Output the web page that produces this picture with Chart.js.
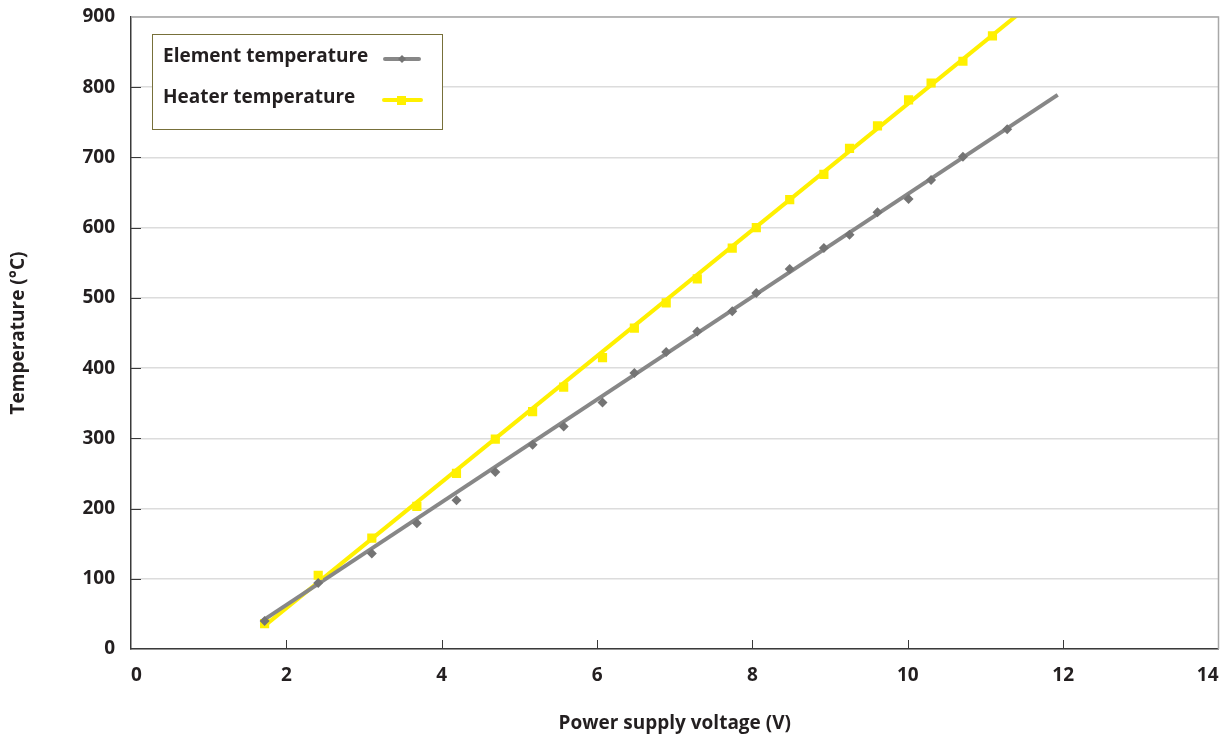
<!DOCTYPE html>
<html>
<head>
<meta charset="utf-8">
<title>Temperature vs power supply voltage</title>
<script src="https://cdn.jsdelivr.net/npm/chart.js@4.4.1/dist/chart.umd.min.js"></script>
<style>
  html, body { margin: 0; padding: 0; background: #fff; }
</style>
</head>
<body>
<canvas id="tempChart" width="1225" height="736"></canvas>
<script>
/* ============================
   DATA
============================ */

// ======== MEASURED POINTS ========
const elementVoltage = [1.72, 2.41, 3.10, 3.68, 4.19, 4.69, 5.17, 5.57, 6.07, 6.48, 6.89,
                        7.29, 7.74, 8.05, 8.48, 8.92, 9.25, 9.61, 10.01, 10.30, 10.71, 11.28];
const elementTemp = [40, 94, 136, 179, 212, 252, 291, 317, 351, 393, 423,
                     452, 481, 507, 541, 571, 590, 622, 641, 668, 701, 740];

const heaterVoltage = [1.72, 2.41, 3.10, 3.68, 4.19, 4.69, 5.17, 5.57, 6.07, 6.48, 6.89,
                       7.29, 7.74, 8.05, 8.48, 8.92, 9.25, 9.61, 10.01, 10.30, 10.71, 11.09];
const heaterTemp = [36, 105, 158, 203, 250, 299, 338, 373, 415, 457, 493,
                    527, 571, 600, 640, 676, 713, 745, 782, 806, 837, 873];

// ======== TREND LINES (end points) ========
const elementFitVoltage = [1.69, 11.93];
const elementFitTemp = [40, 789];
const heaterFitVoltage = [1.73, 11.40];
const heaterFitTemp = [34, 902];

// ======== AXES ========
const xTicks = [0, 2, 4, 6, 8, 10, 12, 14];
const yTicks = [0, 100, 200, 300, 400, 500, 600, 700, 800, 900];

const seriesNames = ["Element temperature", "Heater temperature"];

// ======== STYLE ========
const GRAY_LINE = "#878787";
const GRAY_MARK = "#747474";
const YELLOW = "#fff000";
const TEXT = "#231f20";
const FONT = { family: "'Open Sans', 'DejaVu Sans', sans-serif", size: 19, weight: "bold" };

const toPoints = (xs, ys) => xs.map((x, i) => ({ x: x, y: ys[i] }));

// ======== FRAME, INWARD TICKS AND LEGEND BOX ========
const framePlugin = {
    id: "frame",
    afterDraw(chart) {
        const { ctx, chartArea: a, scales } = chart;
        ctx.save();

        // top and right frame
        ctx.strokeStyle = "#a8a8a8";
        ctx.lineWidth = 1.5;
        ctx.beginPath();
        ctx.moveTo(a.left, a.top);
        ctx.lineTo(a.right, a.top);
        ctx.lineTo(a.right, a.bottom);
        ctx.stroke();

        // inward tick marks
        ctx.strokeStyle = "#3a3a3a";
        ctx.lineWidth = 1;
        xTicks.slice(1, -1).forEach((v) => {
            const px = Math.round(scales.x.getPixelForValue(v)) + 0.5;
            ctx.beginPath();
            ctx.moveTo(px, a.bottom);
            ctx.lineTo(px, a.bottom - 9);
            ctx.stroke();
        });
        yTicks.slice(1, -1).forEach((v) => {
            const py = Math.round(scales.y.getPixelForValue(v)) + 0.5;
            ctx.beginPath();
            ctx.moveTo(a.left, py);
            ctx.lineTo(a.left + 10, py);
            ctx.stroke();
        });

        // legend box
        const bx = 152.5, by = 34.5, bw = 290, bh = 95;
        ctx.fillStyle = "#fff";
        ctx.fillRect(bx, by, bw, bh);
        ctx.strokeStyle = "#77703a";
        ctx.lineWidth = 1;
        ctx.strokeRect(bx, by, bw, bh);

        ctx.font = `${FONT.weight} ${FONT.size}px ${FONT.family}`;
        ctx.fillStyle = TEXT;
        ctx.textAlign = "left";
        ctx.textBaseline = "middle";
        ctx.fillText(seriesNames[0], 163, 57);
        ctx.fillText(seriesNames[1], 163, 98);

        // element sample: line + diamond
        ctx.lineCap = "round";
        ctx.strokeStyle = GRAY_LINE;
        ctx.lineWidth = 4;
        ctx.beginPath();
        ctx.moveTo(385, 59);
        ctx.lineTo(419, 59);
        ctx.stroke();
        ctx.fillStyle = GRAY_MARK;
        ctx.beginPath();
        ctx.moveTo(402, 55);
        ctx.lineTo(406, 59);
        ctx.lineTo(402, 63);
        ctx.lineTo(398, 59);
        ctx.closePath();
        ctx.fill();

        // heater sample: line + square
        ctx.strokeStyle = YELLOW;
        ctx.beginPath();
        ctx.moveTo(384, 100);
        ctx.lineTo(421, 100);
        ctx.stroke();
        ctx.fillStyle = YELLOW;
        ctx.fillRect(397, 96, 9, 9);

        ctx.restore();
    },
};

// ======== CHART ========
new Chart(document.getElementById("tempChart"), {
    type: "scatter",
    data: {
        datasets: [
            {
                label: seriesNames[1] + " trend",
                data: toPoints(heaterFitVoltage, heaterFitTemp),
                showLine: true,
                borderColor: YELLOW,
                borderWidth: 4,
                pointRadius: 0,
                order: 4,
            },
            {
                label: seriesNames[0] + " trend",
                data: toPoints(elementFitVoltage, elementFitTemp),
                showLine: true,
                borderColor: GRAY_LINE,
                borderWidth: 4,
                pointRadius: 0,
                order: 3,
            },
            {
                label: seriesNames[1],
                data: toPoints(heaterVoltage, heaterTemp),
                pointStyle: "rect",
                pointRadius: 6.5,
                backgroundColor: YELLOW,
                borderWidth: 0,
                order: 2,
            },
            {
                label: seriesNames[0],
                data: toPoints(elementVoltage, elementTemp),
                pointStyle: "rectRot",
                pointRadius: 5,
                backgroundColor: GRAY_MARK,
                borderWidth: 0,
                order: 1,
            },
        ],
    },
    options: {
        responsive: false,
        animation: false,
        devicePixelRatio: 1,
        layout: { padding: { top: 17, right: 3, left: 0, bottom: 0 } },
        plugins: {
            legend: { display: false },
            tooltip: { enabled: false },
        },
        scales: {
            x: {
                type: "linear",
                min: 0,
                max: 14,
                afterBuildTicks: (scale) => {
                    scale.ticks = xTicks.map((v) => ({ value: v }));
                },
                afterFit: (scale) => {
                    scale.height = 87;
                    scale.paddingLeft = 0;
                    scale.paddingRight = 0;
                },
                ticks: { font: FONT, color: TEXT, padding: 15, align: "inner", maxRotation: 0 },
                grid: { drawOnChartArea: false, drawTicks: false },
                border: { color: "#3a3a3a", width: 1.5 },
                title: {
                    display: true,
                    text: "Power supply voltage (V)",
                    font: FONT,
                    color: TEXT,
                    padding: { top: 0, bottom: 1 },
                },
            },
            y: {
                type: "linear",
                min: 0,
                max: 900,
                afterBuildTicks: (scale) => {
                    scale.ticks = yTicks.map((v) => ({ value: v }));
                },
                afterFit: (scale) => {
                    scale.width = 131;
                    scale.paddingTop = 0;
                    scale.paddingBottom = 0;
                },
                ticks: { font: FONT, color: TEXT, padding: 16 },
                grid: { color: "#dcdcdc", lineWidth: 1.5, drawTicks: false },
                border: { color: "#3a3a3a", width: 1.5 },
                title: {
                    display: true,
                    text: "Temperature (°C)",
                    font: FONT,
                    color: TEXT,
                    padding: { top: 7, bottom: 0 },
                },
            },
        },
    },
    plugins: [framePlugin],
});
</script>
</body>
</html>
